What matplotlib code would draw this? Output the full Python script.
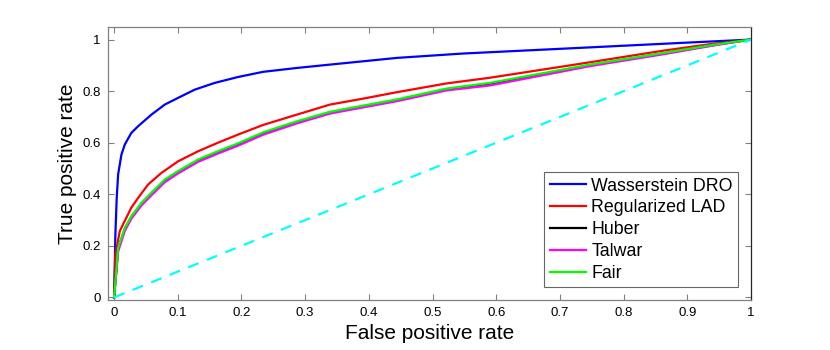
import numpy as np
import matplotlib
matplotlib.use('Agg')
from matplotlib import pyplot as plt

# ROC curves (false positive rate, true positive rate)
fpr_wdro = [0, 0.001, 0.002, 0.004, 0.0063, 0.0115, 0.0168, 0.027, 0.0377, 0.0586, 0.0796, 0.1005,
            0.1267, 0.158, 0.1947, 0.234, 0.287, 0.339, 0.444, 0.548, 0.59, 0.732, 0.889, 1.0]
tpr_wdro = [0, 0.12, 0.244, 0.38, 0.477, 0.554, 0.593, 0.638, 0.664, 0.709, 0.748, 0.774,
            0.806, 0.832, 0.855, 0.875, 0.89, 0.903, 0.929, 0.946, 0.951, 0.968, 0.987, 1.0]

fpr_lad = [0, 0.002, 0.0089, 0.014, 0.027, 0.0377, 0.0534, 0.0743, 0.1005, 0.132, 0.163, 0.195,
           0.234, 0.287, 0.339, 0.391, 0.444, 0.522, 0.59, 0.747, 0.862, 0.941, 1.0]
tpr_lad = [0, 0.167, 0.257, 0.283, 0.348, 0.386, 0.438, 0.483, 0.528, 0.567, 0.6, 0.632,
           0.669, 0.709, 0.748, 0.771, 0.796, 0.830, 0.852, 0.912, 0.957, 0.984, 1.0]

fpr_fair = [0, 0.0063, 0.0168, 0.027, 0.043, 0.0586, 0.0796, 0.1005, 0.132, 0.163, 0.195,
            0.234, 0.287, 0.339, 0.391, 0.444, 0.522, 0.59, 0.747, 0.862, 0.941, 1.0]
tpr_fair = [0, 0.193, 0.27, 0.315, 0.367, 0.406, 0.457, 0.49, 0.535, 0.567, 0.598,
            0.640, 0.683, 0.720, 0.744, 0.768, 0.810, 0.832, 0.903, 0.948, 0.98, 1.0]
tpr_huber = [0, 0.188, 0.266, 0.311, 0.363, 0.403, 0.453, 0.487, 0.531, 0.563, 0.594,
             0.637, 0.680, 0.717, 0.741, 0.765, 0.807, 0.829, 0.9, 0.946, 0.979, 1.0]
tpr_talwar = [0, 0.178, 0.258, 0.305, 0.357, 0.396, 0.447, 0.481, 0.526, 0.558, 0.589,
              0.631, 0.675, 0.713, 0.737, 0.761, 0.803, 0.822, 0.897, 0.943, 0.977, 1.0]

labels = ['Wasserstein DRO', 'Regularized LAD', 'Huber', 'Talwar', 'Fair']
colors = ['#0000ff', '#ff0000', '#000000', '#ff00ff', '#00ff00']

plt.rcParams['font.family'] = ['Liberation Sans', 'DejaVu Sans']

fig = plt.figure(figsize=(8.3, 3.5), dpi=100)
ax = fig.add_axes([0.1298, 0.1429, 0.775, 0.7808])

curves = [(fpr_wdro, tpr_wdro), (fpr_lad, tpr_lad), (fpr_fair, tpr_huber),
          (fpr_fair, tpr_talwar), (fpr_fair, tpr_fair)]
for (x, y), lab, c in zip(curves, labels, colors):
    ax.plot(x, y, color=c, lw=1.6, label=lab)
ax.plot([0, 1], [0, 1], '--', color='#00ffff', lw=1.6, dashes=(5, 4))

ax.set_xlim(-0.01, 1)
ax.set_ylim(-0.01, 1.05)
ax.set_xticks(np.arange(0, 1.01, 0.1))
ax.set_xticklabels(['0', '0.1', '0.2', '0.3', '0.4', '0.5', '0.6', '0.7', '0.8', '0.9', '1'])
ax.set_yticks([0, 0.2, 0.4, 0.6, 0.8, 1])
ax.set_yticklabels(['0', '0.2', '0.4', '0.6', '0.8', '1'])
ax.tick_params(direction='in', top=True, right=True, length=4, width=0.8,
               color='#808080', labelsize=9.5, pad=5)
for s in ax.spines.values():
    s.set_color('#808080')
    s.set_linewidth(0.9)
ax.spines['right'].set_color('#262626')

ax.set_xlabel('False positive rate', fontsize=15, labelpad=4)
ax.set_ylabel('True positive rate', fontsize=15, labelpad=4)

leg = ax.legend(loc='lower right', fontsize=12.8, frameon=True, fancybox=False,
                edgecolor='#404040', handlelength=2.05, handletextpad=0.3,
                borderpad=0.3, borderaxespad=0, labelspacing=0.27,
                bbox_to_anchor=(0.98, 0.047))
leg.get_frame().set_linewidth(0.8)

fig.savefig('out.png', dpi=100)
